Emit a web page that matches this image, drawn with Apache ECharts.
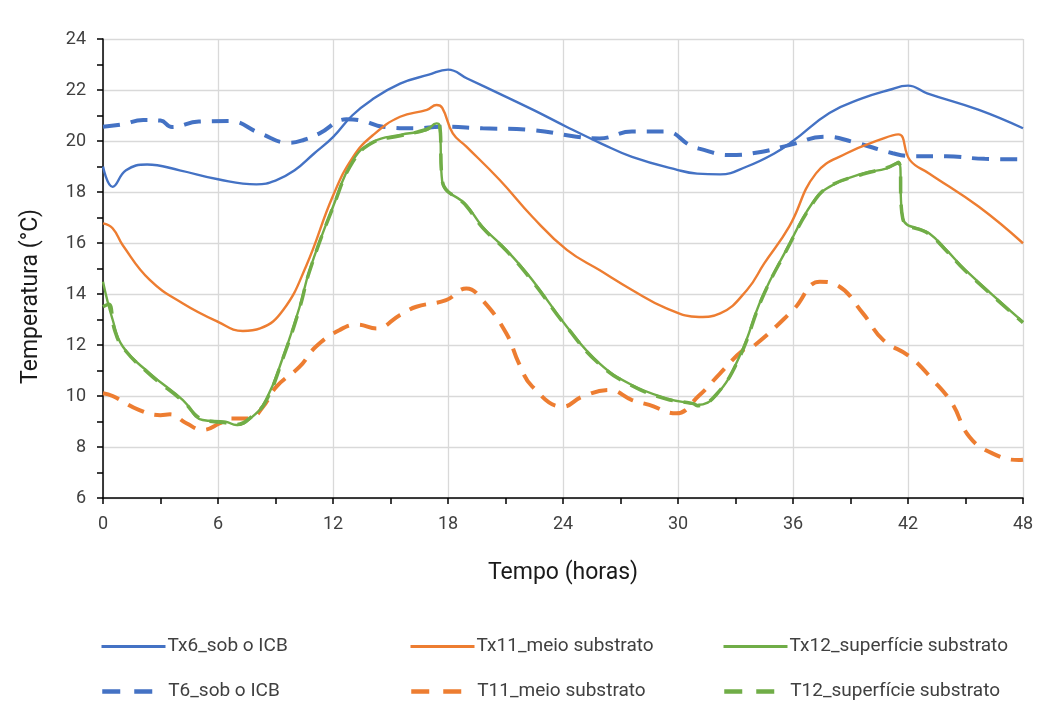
<!DOCTYPE html>
<html>
<head>
<meta charset="utf-8">
<script src="https://cdn.jsdelivr.net/npm/echarts@6/dist/echarts.min.js"></script>
<style>
  html, body { margin: 0; padding: 0; background: #ffffff; }
  #chart { width: 1040px; height: 727px; }
</style>
</head>
<body>
<div id="chart"></div>
<script>
// pontos: [hora, temperatura ºC]
var tx6 = [[0, 19.0], [0.5, 18.2], [1.2, 18.85], [2.3, 19.08], [4, 18.85], [6, 18.5], [8, 18.3], [9, 18.45], [10, 18.85], [11, 19.5], [12, 20.15], [13, 21.0], [14, 21.6], [15.5, 22.25], [17, 22.6], [18, 22.8], [19, 22.45], [20.7, 21.85], [22.5, 21.2], [24.2, 20.55], [26, 19.9], [27.6, 19.38], [30, 18.86], [31, 18.72], [32.2, 18.69], [33.6, 19.0], [35, 19.5], [36, 20.0], [37.9, 21.1], [39.6, 21.67], [41, 22.0], [42, 22.17], [43, 21.87], [45.7, 21.22], [48, 20.5]]
var t6 = [[0, 20.56], [1, 20.65], [2.1, 20.82], [3, 20.8], [3.6, 20.55], [5, 20.76], [6.6, 20.78], [8.2, 20.3], [9.7, 19.93], [10.5, 20.05], [11.3, 20.3], [12.7, 20.85], [13.5, 20.8], [14.6, 20.56], [16.4, 20.5], [17.6, 20.56], [19.8, 20.5], [22.4, 20.43], [24.7, 20.17], [25.9, 20.1], [27.6, 20.37], [29.4, 20.37], [30.6, 19.84], [31.1, 19.7], [32.7, 19.45], [34.4, 19.58], [35.8, 19.84], [37.7, 20.17], [39.1, 19.97], [41.2, 19.52], [42.1, 19.41], [44, 19.4], [46, 19.3], [48, 19.28]]
var tx11 = [[0, 16.77], [0.5, 16.58], [1.04, 15.9], [2.44, 14.55], [4.17, 13.63], [6, 12.91], [7.3, 12.55], [8.2, 12.65], [9.4, 13.37], [10.6, 15.1], [12, 17.85], [13.05, 19.38], [14.1, 20.24], [15.5, 20.95], [16.9, 21.22], [17.4, 21.41], [17.7, 21.3], [18.25, 20.3], [18.96, 19.78], [20.7, 18.47], [22.4, 17.03], [24.2, 15.73], [25.9, 14.94], [27.6, 14.16], [29.4, 13.44], [31.1, 13.1], [32.2, 13.24], [33.6, 14.16], [34.5, 15.2], [35.8, 16.64], [37.2, 18.73], [38.8, 19.52], [40.5, 20.04], [41.5, 20.26], [42.1, 19.25], [43.1, 18.73], [45.7, 17.42], [48, 15.99]]
var tx12 = [[0, 14.48], [0.5, 13.0], [1.04, 11.93], [2.44, 10.89], [4.17, 9.84], [5.2, 9.06], [6.4, 8.99], [6.96, 8.86], [7.8, 9.19], [8.5, 9.84], [9.4, 11.54], [10.26, 13.5], [10.78, 14.94], [12, 17.42], [13.05, 19.25], [14.1, 19.97], [15.5, 20.24], [16.87, 20.43], [17.4, 20.69], [17.56, 20.6], [17.7, 18.4], [18.96, 17.49], [19.8, 16.64], [21.04, 15.73], [22.4, 14.55], [24.2, 12.72], [25.9, 11.28], [27.6, 10.43], [29.4, 9.91], [30.8, 9.69], [31, 9.65], [32, 10.04], [33.2, 11.54], [34.4, 13.89], [35.65, 15.73], [37.0, 17.56], [37.9, 18.2], [39.65, 18.73], [40.9, 18.93], [41.5, 19.19], [41.73, 16.97], [43.1, 16.38], [44, 15.73], [45, 14.94], [48, 12.91]]
var t11 = [[0, 10.11], [0.5, 10.0], [1.9, 9.45], [3, 9.25], [3.5, 9.28], [4.35, 8.93], [5.2, 8.67], [6.1, 8.93], [6.6, 9.12], [7.65, 9.12], [8.35, 9.58], [9.05, 10.37], [10.26, 11.15], [11.1, 11.93], [12.35, 12.59], [13.3, 12.8], [14.26, 12.65], [15.5, 13.18], [16.35, 13.5], [17.9, 13.76], [18.96, 14.22], [19.8, 13.76], [21.04, 12.46], [21.7, 11.28], [22.4, 10.37], [24, 9.58], [25, 9.97], [26.4, 10.24], [27.6, 9.84], [28.5, 9.65], [29.9, 9.32], [31.1, 10.02], [32.2, 10.89], [33.4, 11.8], [33.9, 11.93], [36, 13.37], [37.4, 14.48], [38.3, 14.35], [39.65, 13.24], [40.7, 12.2], [42.1, 11.54], [43.3, 10.63], [44.3, 9.71], [45.2, 8.4], [46.4, 7.75], [47.8, 7.49], [48, 7.5]]
var t12 = [[0, 13.5], [0.3, 13.6], [0.6, 12.6], [1.04, 11.9], [2.44, 10.85], [4.17, 9.8], [5.2, 9.08], [6.4, 8.95], [6.96, 8.88], [7.8, 9.22], [8.5, 9.8], [9.4, 11.5], [10.26, 13.45], [10.78, 14.9], [12, 17.4], [13.05, 19.2], [14.1, 19.95], [15.5, 20.2], [16.87, 20.45], [17.4, 20.65], [17.56, 20.62], [17.7, 18.45], [18.96, 17.45], [19.8, 16.6], [21.04, 15.7], [22.4, 14.5], [24.2, 12.7], [25.9, 11.25], [27.6, 10.4], [29.4, 9.88], [30.8, 9.7], [31, 9.62], [32, 10.06], [33.2, 11.5], [34.4, 13.85], [35.65, 15.7], [37.0, 17.52], [37.9, 18.22], [39.65, 18.7], [40.9, 18.95], [41.5, 19.15], [41.73, 16.95], [43.1, 16.35], [44, 15.7], [45, 14.9], [48, 12.88]]

var yTicks = [6, 8, 10, 12, 14, 16, 18, 20, 22, 24]
var xTicks = [0, 6, 12, 18, 24, 30, 36, 42, 48]

var azul = '#4472C4'
var laranja = '#ED7D31'
var verde = '#70AD47'
var fonte = "'Roboto', sans-serif"
var tracejado = [17, 11]

var chart = echarts.init(document.getElementById('chart'))

function serie (nome, dados, cor, largura, tipo) {
  return {
    name: nome,
    type: 'line',
    data: dados,
    showSymbol: false,
    symbol: 'none',
    smooth: 0.45,
    color: cor,
    lineStyle: { color: cor, width: largura, type: tipo },
    emphasis: { disabled: true }
  }
}

// uma legenda por item, para as colunas ficarem alinhadas como no Excel
function legenda (nome, left, top, tipo) {
  return {
    data: [nome],
    left: left,
    top: top,
    itemWidth: 64,
    itemHeight: 14,
    itemGap: 0,
    selectedMode: false,
    itemStyle: { opacity: 0 },
    lineStyle: tipo === 'solid' ? { width: 3, type: 'solid' } : { width: 4.5, type: [18, 14] },
    textStyle: { fontFamily: fonte, fontSize: 19, color: '#404040', padding: [0, 0, 0, -3] }
  }
}

chart.setOption({
  backgroundColor: '#ffffff',
  animation: false,
  textStyle: { fontFamily: fonte },
  grid: { left: 103, right: 17, top: 39, bottom: 229, containLabel: false },
  legend: [
    legenda('Tx6_sob o ICB', 95, 632, 'solid'),
    legenda('Tx11_meio substrato', 404, 632, 'solid'),
    legenda('Tx12_superfície substrato', 717, 632, 'solid'),
    legenda('T6_sob o ICB', 95, 677, 'dashed'),
    legenda('T11_meio substrato', 404, 677, 'dashed'),
    legenda('T12_superfície substrato', 717, 677, 'dashed')
  ],
  xAxis: {
    type: 'value',
    min: 0,
    max: 48,
    interval: 6,
    name: 'Tempo (horas)',
    nameLocation: 'middle',
    nameGap: 64,
    nameTextStyle: { fontFamily: fonte, fontSize: 23, color: '#1a1a1a' },
    axisLine: { lineStyle: { color: '#000000', width: 1.5 } },
    axisTick: { show: true, length: 6, lineStyle: { color: '#000000', width: 1.5 } },
    minorTick: { show: true, splitNumber: 2, length: 6, lineStyle: { color: '#000000', width: 1.5 } },
    axisLabel: {
      margin: 17,
      fontSize: 18,
      color: '#404040',
      formatter: function (v) { return xTicks.indexOf(v) >= 0 ? String(v) : '' }
    },
    splitLine: { show: true, lineStyle: { color: '#d9d9d9', width: 1.3 } }
  },
  yAxis: {
    type: 'value',
    min: 6,
    max: 24,
    interval: 2,
    name: 'Temperatura (°C)',
    nameLocation: 'middle',
    nameGap: 60,
    nameTextStyle: { fontFamily: fonte, fontSize: 23, color: '#1a1a1a', padding: [0, 56, 0, 0] },
    axisLine: { show: true, lineStyle: { color: '#000000', width: 1.5 } },
    axisTick: { show: true, length: 6, lineStyle: { color: '#000000', width: 1.5 } },
    minorTick: { show: true, splitNumber: 2, length: 6, lineStyle: { color: '#000000', width: 1.5 } },
    axisLabel: {
      margin: 17,
      fontSize: 18,
      color: '#404040',
      formatter: function (v) { return yTicks.indexOf(v) >= 0 ? String(v) : '' }
    },
    splitLine: { show: true, lineStyle: { color: '#d9d9d9', width: 1.3 } }
  },
  series: [
    serie('T6_sob o ICB', t6, azul, 4, tracejado),
    serie('T11_meio substrato', t11, laranja, 4, tracejado),
    serie('T12_superfície substrato', t12, verde, 3.5, tracejado),
    serie('Tx6_sob o ICB', tx6, azul, 2.4, 'solid'),
    serie('Tx11_meio substrato', tx11, laranja, 2.4, 'solid'),
    serie('Tx12_superfície substrato', tx12, verde, 2.4, 'solid')
  ]
})
</script>
</body>
</html>
